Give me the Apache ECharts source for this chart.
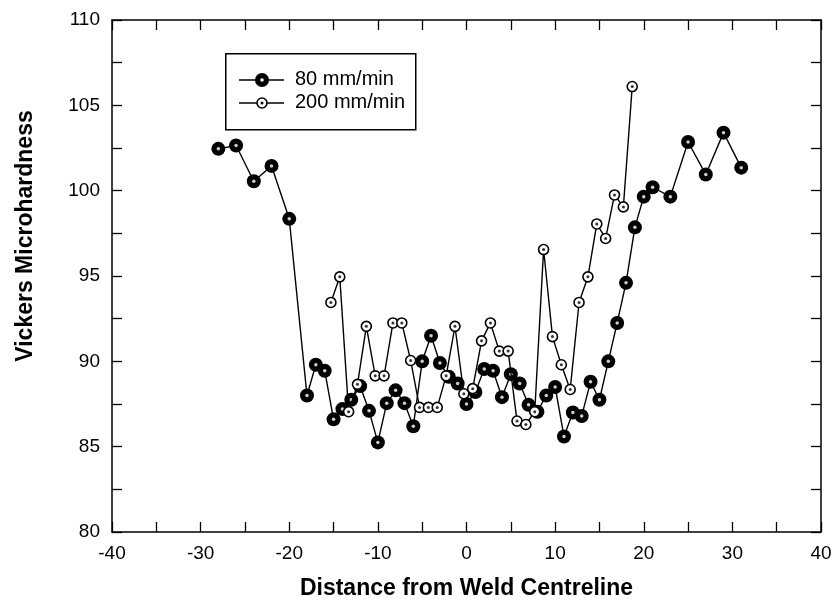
<!DOCTYPE html>
<html>
<head>
<meta charset="utf-8">
<script src="https://cdn.jsdelivr.net/npm/echarts@6/dist/echarts.min.js"></script>
<style>
html,body{margin:0;padding:0;background:#fff;}
#chart{width:837px;height:614px;}
</style>
</head>
<body>
<div id="chart"></div>
<script>
// ---- data ----
var seriesNames = ['80 mm/min', '200 mm/min'];
var x80 = [-28,-26,-24,-22,-20,-18,-17,-16,-15,-14,-13,-12,-11,-10,-9,-8,-7,-6,-5,-4,-3,-2,-1,0,1,2,3,4,5,6,7,8,9,10,11,12,13,14,15,16,17,18,19,20,21,23,25,27,29,31];
var y80 = [102.45,102.65,100.55,101.45,98.35,88.0,89.8,89.45,86.6,87.2,87.75,88.55,87.1,85.25,87.55,88.3,87.55,86.2,90.0,91.5,89.9,89.1,88.7,87.5,88.2,89.55,89.45,87.9,89.25,88.7,87.45,87.05,88.0,88.5,85.6,87.0,86.8,88.8,87.75,90.0,92.25,94.6,97.85,99.65,100.2,99.65,102.85,100.95,103.4,101.35];
var x200 = [-15.3,-14.3,-13.3,-12.3,-11.3,-10.3,-9.3,-8.3,-7.3,-6.3,-5.3,-4.3,-3.3,-2.3,-1.3,-0.3,0.7,1.7,2.7,3.7,4.7,5.7,6.7,7.7,8.7,9.7,10.7,11.7,12.7,13.7,14.7,15.7,16.7,17.7,18.7];
var y200 = [93.45,94.95,87.05,88.65,92.05,89.15,89.15,92.25,92.25,90.05,87.3,87.3,87.3,89.15,92.05,88.1,88.4,91.2,92.25,90.6,90.6,86.5,86.3,87.05,96.55,91.45,89.8,88.35,93.45,94.95,98.05,97.2,99.75,99.05,106.1];
var xTitle = 'Distance from Weld Centreline';
var yTitle = 'Vickers Microhardness';

function pairs(xs, ys){ return xs.map(function(x,i){ return [x, ys[i]]; }); }
var d80 = pairs(x80, y80);
var d200 = pairs(x200, y200);

var FONT = '"Liberation Sans", Arial, sans-serif';
var chart = echarts.init(document.getElementById('chart'));

var tickStyle = {show:true, inside:true, length:10, lineStyle:{color:'#000', width:1.3}};
var lineAx = {show:true, onZero:false, lineStyle:{color:'#000', width:1.5}};

var option = {
  animation:false,
  backgroundColor:'#fff',
  grid:{left:112, top:20, width:709, height:512, containLabel:false},
  xAxis:[{
    type:'value', min:-40, max:40, interval:5, position:'bottom',
    axisLine:lineAx, axisTick:tickStyle, splitLine:{show:false},
    axisLabel:{color:'#000', fontFamily:FONT, fontSize:19, margin:12,
      formatter:function(v){ return (v % 10 === 0) ? String(v) : ''; }},
    name:xTitle, nameLocation:'middle', nameGap:45,
    nameTextStyle:{color:'#000', fontFamily:FONT, fontSize:23, fontWeight:'bold'}
  },{
    type:'value', min:-40, max:40, interval:5, position:'top',
    axisLine:lineAx, axisTick:tickStyle, splitLine:{show:false}, axisLabel:{show:false}
  }],
  yAxis:[{
    type:'value', min:80, max:110, interval:2.5, position:'left',
    axisLine:lineAx, axisTick:tickStyle, splitLine:{show:false},
    axisLabel:{color:'#000', fontFamily:FONT, fontSize:19, margin:12,
      formatter:function(v){ return (v % 5 === 0) ? String(v) : ''; }}
  },{
    type:'value', min:80, max:110, interval:2.5, position:'right',
    axisLine:lineAx, axisTick:tickStyle, splitLine:{show:false}, axisLabel:{show:false}
  }],
  series:[{
    name:seriesNames[0], type:'line', data:d80, z:2,
    symbol:'circle', symbolSize:14,
    itemStyle:{color:'#000', borderColor:'#000', borderWidth:0},
    lineStyle:{color:'#000', width:1.4}
  },{
    name:seriesNames[0]+' dot', type:'scatter', data:d80, z:3,
    symbol:'circle', symbolSize:3.5, itemStyle:{color:'#fff'}, silent:true
  },{
    name:seriesNames[1], type:'line', data:d200, z:4,
    symbol:'circle', symbolSize:10,
    itemStyle:{color:'#fff', borderColor:'#000', borderWidth:1.6},
    lineStyle:{color:'#000', width:1.4}
  },{
    name:seriesNames[1]+' dot', type:'scatter', data:d200, z:5,
    symbol:'circle', symbolSize:3, itemStyle:{color:'#000'}, silent:true
  }],
  graphic:[
    {type:'text', x:26, y:236, rotation:Math.PI/2,
      style:{text:yTitle, font:'bold 23px ' + FONT, fill:'#000', align:'center', verticalAlign:'middle'}},
    {type:'rect', left:225, top:53, shape:{width:190, height:76}, style:{fill:'#fff', stroke:'#000', lineWidth:1.5}, z:10},
    {type:'line', shape:{x1:239, y1:80, x2:284, y2:80}, style:{stroke:'#000', lineWidth:1.4}, z:11},
    {type:'circle', shape:{cx:262, cy:80, r:7}, style:{fill:'#000'}, z:12},
    {type:'circle', shape:{cx:262, cy:80, r:1.8}, style:{fill:'#fff'}, z:13},
    {type:'text', left:295, top:69, style:{text:seriesNames[0], font:'20px ' + FONT, fill:'#000'}, z:12},
    {type:'line', shape:{x1:239, y1:103, x2:284, y2:103}, style:{stroke:'#000', lineWidth:1.4}, z:11},
    {type:'circle', shape:{cx:262, cy:103, r:5}, style:{fill:'#fff', stroke:'#000', lineWidth:1.6}, z:12},
    {type:'circle', shape:{cx:262, cy:103, r:1.5}, style:{fill:'#000'}, z:13},
    {type:'text', left:295, top:92, style:{text:seriesNames[1], font:'20px ' + FONT, fill:'#000'}, z:12}
  ]
};
chart.setOption(option);
</script>
</body>
</html>
